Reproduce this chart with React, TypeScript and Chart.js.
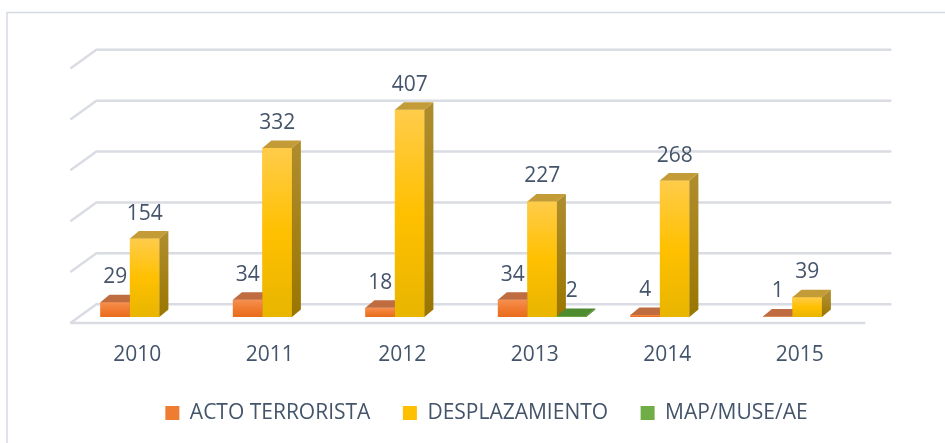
import React, { useEffect, useRef } from 'react';
import { Chart, registerables } from 'chart.js';

Chart.register(...registerables);

// ---- data ----
const years = ['2010', '2011', '2012', '2013', '2014', '2015'];
const actoTerrorista = [29, 34, 18, 34, 4, 1];
const desplazamiento = [154, 332, 407, 227, 268, 39];
const mapMuseAe = [null, null, null, 2, null, null];
const seriesNames = ['ACTO TERRORISTA', 'DESPLAZAMIENTO', 'MAP/MUSE/AE'];
const yMin = 0;
const yMax = 500;
const yStep = 100;

// ---- style ----
const TEXT = '#44546A';
const FONT = "'Open Sans', 'Noto Sans', sans-serif";
const FONT_SIZE = 21;
const GRID = '#D9DCE3';
const faces = [
  { solid: '#EE7D32', front: ['#F69050', '#F07B30', '#E96C1C'], top: '#BE6C40', side: ['#B0602A', '#9E5418'] },
  { solid: '#FFC000', front: ['#FFCC4A', '#FFC000', '#E8B500'], top: '#C39C38', side: ['#AE8C2C', '#9A7600'] },
  { solid: '#70AD47', front: ['#78B450', '#6AA53F', '#5C9633'], top: '#4F8C2F', side: ['#4A7F2B', '#3E6E22'] },
];
const BAR_DX = 9;
const BAR_DY = 7.5;
const WALL_DX = 18;
const WALL_DY = -12.75;
const FRONT_DX = -8;
const FRONT_DY = 6;

const scenePlugin = {
  id: 'scene3d',
  beforeDraw(chart: any) {
    const ctx = chart.ctx;
    ctx.save();
    ctx.strokeStyle = '#D6DBE3';
    ctx.lineWidth = 1.5;
    ctx.strokeRect(7, 12.5, 1200, 1200);
    ctx.restore();
  },
  beforeDatasetsDraw(chart: any) {
    const ctx = chart.ctx;
    const { left, right } = chart.chartArea;
    const ys = chart.scales.y;
    ctx.save();
    ctx.strokeStyle = GRID;
    ctx.lineWidth = 2.5;
    ys.ticks.forEach((t: any) => {
      const y = ys.getPixelForValue(t.value);
      ctx.beginPath();
      ctx.moveTo(left + FRONT_DX, y + FRONT_DY);
      ctx.lineTo(left + WALL_DX, y + WALL_DY);
      ctx.lineTo(right + WALL_DX, y + WALL_DY);
      ctx.stroke();
    });
    const y0 = ys.getPixelForValue(yMin);
    ctx.beginPath();
    ctx.moveTo(left + FRONT_DX, y0 + FRONT_DY);
    ctx.lineTo(right + FRONT_DX, y0 + FRONT_DY);
    ctx.stroke();
    ctx.restore();
  },
  afterDatasetsDraw(chart: any) {
    const ctx = chart.ctx;
    const n = chart.data.labels.length;
    const dsCount = chart.data.datasets.length;
    ctx.save();
    const labels: any[] = [];
    for (let c = 0; c < n; c++) {
      for (let d = 0; d < dsCount; d++) {
        const raw = chart.data.datasets[d].data[c];
        if (raw == null) continue;
        const el = chart.getDatasetMeta(d).data[c];
        if (!el) continue;
        const { x, y, base, width } = el.getProps(['x', 'y', 'base', 'width'], true);
        const l = x - width / 2;
        const r = x + width / 2;
        const f = faces[d];
        // front
        const g = ctx.createLinearGradient(0, y, 0, base);
        g.addColorStop(0, f.front[0]);
        g.addColorStop(0.5, f.front[1]);
        g.addColorStop(1, f.front[2]);
        ctx.fillStyle = g;
        ctx.fillRect(l, y, r - l, base - y);
        // top
        ctx.fillStyle = f.top;
        ctx.beginPath();
        ctx.moveTo(l, y);
        ctx.lineTo(l + BAR_DX, y - BAR_DY);
        ctx.lineTo(r + BAR_DX, y - BAR_DY);
        ctx.lineTo(r, y);
        ctx.closePath();
        ctx.fill();
        // side
        const gs = ctx.createLinearGradient(0, y, 0, base);
        gs.addColorStop(0, f.side[0]);
        gs.addColorStop(1, f.side[1]);
        ctx.fillStyle = gs;
        ctx.beginPath();
        ctx.moveTo(r, y);
        ctx.lineTo(r + BAR_DX, y - BAR_DY);
        ctx.lineTo(r + BAR_DX, base - BAR_DY);
        ctx.lineTo(r, base);
        ctx.closePath();
        ctx.fill();
        labels.push({ text: String(raw), x, y: y - 25 });
      }
    }
    ctx.font = `${FONT_SIZE}px ${FONT}`;
    ctx.fillStyle = TEXT;
    ctx.textAlign = 'center';
    ctx.textBaseline = 'middle';
    labels.forEach((lb) => ctx.fillText(lb.text, lb.x, lb.y));
    ctx.restore();
  },
};

export default function App() {
  const ref = useRef<HTMLCanvasElement | null>(null);
  useEffect(() => {
    if (!ref.current) return;
    const seriesData = [actoTerrorista, desplazamiento, mapMuseAe];
    const chart = new Chart(ref.current, {
      type: 'bar',
      data: {
        labels: years,
        datasets: seriesNames.map((name, i) => ({
          label: name,
          data: seriesData[i] as any,
          backgroundColor: faces[i].solid,
          borderWidth: 0,
        })),
      },
      options: {
        animation: false,
        responsive: false,
        events: [],
        layout: { padding: { left: 28, right: 0, top: 62.5, bottom: 9.5 } },
        datasets: { bar: { categoryPercentage: 0.668, barPercentage: 1 } } as any,
        scales: {
          x: {
            grid: { display: false, drawTicks: false },
            border: { display: false },
            ticks: { font: { family: FONT, size: FONT_SIZE }, color: TEXT, padding: 25, labelOffset: -7.5 },
            afterFit(s: any) { s.height = 53; },
          },
          y: {
            min: yMin,
            max: yMax,
            ticks: { stepSize: yStep, display: false },
            grid: { display: false, drawTicks: false },
            border: { display: false },
            afterFit(s: any) { s.width = 50.4; },
          },
          yR: {
            type: 'linear',
            position: 'right',
            ticks: { display: false },
            grid: { display: false, drawTicks: false },
            border: { display: false },
            afterFit(s: any) { s.width = 71.6; },
          },
        } as any,
        plugins: {
          legend: {
            position: 'bottom',
            labels: { boxWidth: 14, boxHeight: 14, padding: 32.5, font: { family: FONT, size: FONT_SIZE }, color: TEXT },
          },
          tooltip: { enabled: false },
        },
      },
      plugins: [scenePlugin],
    });
    return () => chart.destroy();
  }, []);
  return (
    <div style={{ position: 'absolute', left: 0, top: 0, width: 945, height: 443, background: '#fff' }}>
      <canvas ref={ref} width={945} height={443} style={{ display: 'block' }} />
    </div>
  );
}
